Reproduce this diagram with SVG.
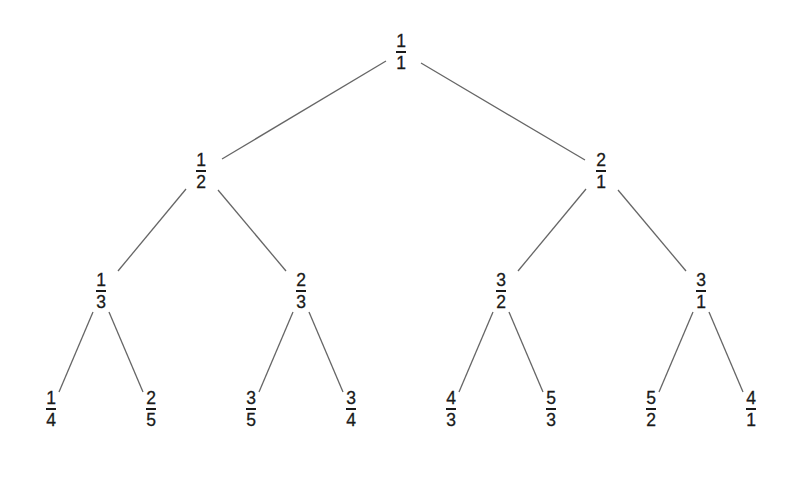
<svg xmlns="http://www.w3.org/2000/svg" width="788" height="487" viewBox="0 0 788 487">
<style>
text{font-family:"Liberation Sans",Arial,Helvetica,sans-serif;font-size:17.5px;fill:#1a1a1a;text-anchor:middle;stroke:#1a1a1a;stroke-width:0.3}
.bar{fill:#1a1a1a}
#edges line{stroke:#666;stroke-width:1.3}
</style>
<rect width="788" height="487" fill="#fff"/>
<defs>
<rect id="b" class="bar" x="-5" y="-1" width="10" height="2"/>
</defs>
<g id="edges">
<line x1="386" y1="61" x2="222" y2="159"/>
<line x1="421" y1="63" x2="585" y2="160"/>
<line x1="186" y1="189" x2="118" y2="271"/>
<line x1="218" y1="190" x2="286" y2="271"/>
<line x1="586" y1="189" x2="518" y2="271"/>
<line x1="618" y1="190" x2="686" y2="271"/>
<line x1="93" y1="312" x2="59" y2="392"/>
<line x1="109" y1="312" x2="143" y2="392"/>
<line x1="293" y1="312" x2="259" y2="392"/>
<line x1="309" y1="312" x2="343" y2="392"/>
<line x1="493" y1="312" x2="459" y2="392"/>
<line x1="509" y1="312" x2="543" y2="392"/>
<line x1="693" y1="312" x2="659" y2="392"/>
<line x1="709" y1="312" x2="743" y2="392"/>
</g>
<g id="n1_1" transform="translate(401,52)"><text y="-5">1</text><use href="#b"/><text y="17">1</text></g>
<g id="n1_2" transform="translate(201,171)"><text y="-5">1</text><use href="#b"/><text y="17">2</text></g>
<g id="n2_1" transform="translate(601,171)"><text y="-5">2</text><use href="#b"/><text y="17">1</text></g>
<g id="n1_3" transform="translate(101,291)"><text y="-5">1</text><use href="#b"/><text y="17">3</text></g>
<g id="n2_3" transform="translate(301,291)"><text y="-5">2</text><use href="#b"/><text y="17">3</text></g>
<g id="n3_2" transform="translate(501,291)"><text y="-5">3</text><use href="#b"/><text y="17">2</text></g>
<g id="n3_1" transform="translate(701,291)"><text y="-5">3</text><use href="#b"/><text y="17">1</text></g>
<g id="n1_4" transform="translate(51,409)"><text y="-5">1</text><use href="#b"/><text y="17">4</text></g>
<g id="n2_5" transform="translate(151,409)"><text y="-5">2</text><use href="#b"/><text y="17">5</text></g>
<g id="n3_5" transform="translate(251,409)"><text y="-5">3</text><use href="#b"/><text y="17">5</text></g>
<g id="n3_4" transform="translate(351,409)"><text y="-5">3</text><use href="#b"/><text y="17">4</text></g>
<g id="n4_3" transform="translate(451,409)"><text y="-5">4</text><use href="#b"/><text y="17">3</text></g>
<g id="n5_3" transform="translate(551,409)"><text y="-5">5</text><use href="#b"/><text y="17">3</text></g>
<g id="n5_2" transform="translate(651,409)"><text y="-5">5</text><use href="#b"/><text y="17">2</text></g>
<g id="n4_1" transform="translate(751,409)"><text y="-5">4</text><use href="#b"/><text y="17">1</text></g>
</svg>
